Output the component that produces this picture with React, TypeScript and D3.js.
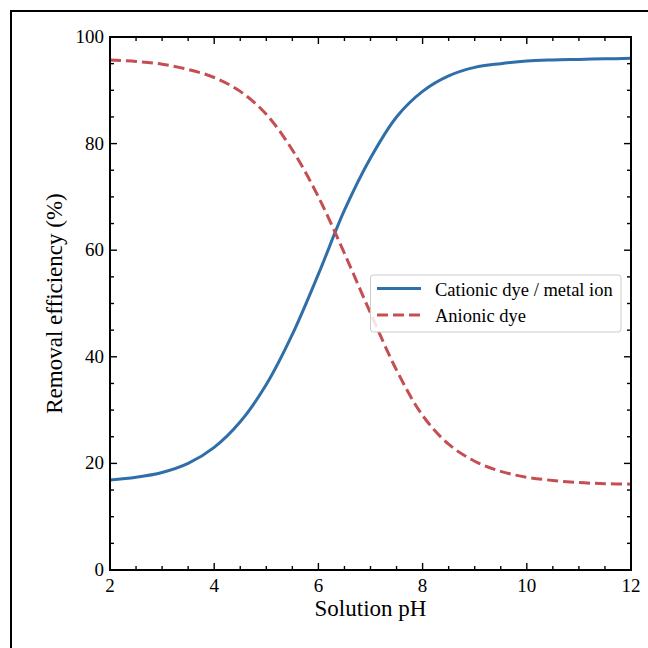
import React from "react";
import * as d3 from "d3";

const phValues = [2, 2.5, 3, 3.5, 4, 4.5, 5, 5.5, 6, 6.5, 7, 7.5, 8, 8.5, 9, 9.5, 10, 10.5, 11, 11.5, 12];
const cationic = [16.9, 17.4, 18.3, 20.0, 23.0, 27.8, 34.8, 44.2, 55.5, 67.5, 77.3, 85.0, 89.8, 92.7, 94.3, 95.0, 95.5, 95.7, 95.8, 95.9, 96.0];
const anionic = [95.7, 95.4, 94.9, 93.9, 92.4, 89.8, 85.5, 78.8, 70.0, 59.4, 48.2, 37.5, 29.0, 23.6, 20.4, 18.5, 17.4, 16.8, 16.4, 16.2, 16.1];
const xTicks = [2, 4, 6, 8, 10, 12];
const yTicks = [0, 20, 40, 60, 80, 100];
const seriesNames = ["Cationic dye / metal ion", "Anionic dye"];
const xLabel = "Solution pH";
const yLabel = "Removal efficiency (%)";

const W = 648, H = 648;
const L = 110, R = 631, T = 37, B = 570;
const BLUE = "#2f6ea9";
const RED = "#c44e52";
const FONT = "'Liberation Serif', 'DejaVu Serif', serif";

export default function App() {
  const x = d3.scaleLinear().domain([2, 12]).range([L, R]);
  const y = d3.scaleLinear().domain([0, 100]).range([B, T]);
  const xMinor = d3.range(2, 12.001, 0.5);
  const yMinor = d3.range(0, 100.001, 5);
  const line = (vals: number[]) =>
    d3.line<number>().x((_, i) => x(phValues[i])).y((v) => y(v)).curve(d3.curveCatmullRom.alpha(0.5))(vals) || "";
  const tickW = 1.4;
  const major = 7, minor = 4;
  const legX = 370.5, legY = 275, legW = 250.5, legH = 57;
  return (
    <svg width={W} height={H} style={{ position: "absolute", left: 0, top: 0, background: "#fff" }} fontFamily={FONT}>
      <rect x={0} y={0} width={W} height={H} fill="#fff" />
      <rect x={11} y={11} width={800} height={800} fill="none" stroke="#000" strokeWidth={2} />
      {xMinor.map((t) => (
        <g key={"xm" + t}>
          <line x1={x(t)} x2={x(t)} y1={B} y2={B - (xTicks.includes(t) ? major : minor)} stroke="#000" strokeWidth={tickW} />
          <line x1={x(t)} x2={x(t)} y1={T} y2={T + (xTicks.includes(t) ? major : minor)} stroke="#000" strokeWidth={tickW} />
        </g>
      ))}
      {yMinor.map((t) => (
        <g key={"ym" + t}>
          <line y1={y(t)} y2={y(t)} x1={L} x2={L + (yTicks.includes(t) ? major : minor)} stroke="#000" strokeWidth={tickW} />
          <line y1={y(t)} y2={y(t)} x1={R} x2={R - (yTicks.includes(t) ? major : minor)} stroke="#000" strokeWidth={tickW} />
        </g>
      ))}
      {xTicks.map((t) => (
        <text key={"xt" + t} x={x(t)} y={B + 22} textAnchor="middle" fontSize={19}>{t}</text>
      ))}
      {yTicks.map((t) => (
        <text key={"yt" + t} x={L - 6} y={y(t) + 6} textAnchor="end" fontSize={19}>{t}</text>
      ))}
      <path d={line(cationic)} fill="none" stroke={BLUE} strokeWidth={3} />
      <path d={line(anionic)} fill="none" stroke={RED} strokeWidth={3} strokeDasharray="11,5" />
      <rect x={L} y={T} width={R - L} height={B - T} fill="none" stroke="#000" strokeWidth={2} />
      <g>
        <rect x={legX} y={legY} width={legW} height={legH} rx={3} fill="#fff" fillOpacity={0.85} stroke="#cccccc" strokeWidth={1} />
        <line x1={377} x2={421} y1={288.5} y2={288.5} stroke={BLUE} strokeWidth={3} />
        <line x1={377} x2={421} y1={315} y2={315} stroke={RED} strokeWidth={3} strokeDasharray="11,5" />
        <text x={435} y={295.5} fontSize={18.5}>{seriesNames[0]}</text>
        <text x={435} y={322} fontSize={18.5}>{seriesNames[1]}</text>
      </g>
      <text x={(L + R) / 2} y={616} textAnchor="middle" fontSize={23}>{xLabel}</text>
      <text transform={`translate(62,${(T + B) / 2}) rotate(-90)`} textAnchor="middle" fontSize={23}>{yLabel}</text>
    </svg>
  );
}
